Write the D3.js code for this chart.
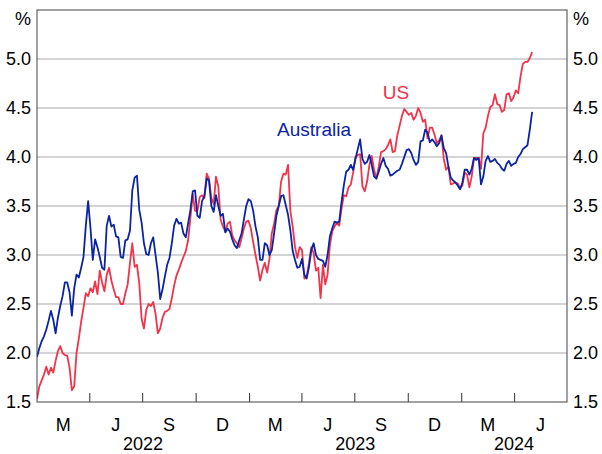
<!DOCTYPE html>
<html>
<head>
<meta charset="utf-8">
<script src="https://cdn.jsdelivr.net/npm/d3@7/dist/d3.min.js"></script>
<style>
  body { margin: 0; background: #fff; }
  svg { display: block; }
  text { font-family: Arial, "Liberation Sans", sans-serif; fill: #000; }
</style>
</head>
<body>
<svg></svg>
<script>
// readings every 4 days, first one 1 Jan 2022, last one 2 May 2024
const firstDay = "2022-01-01";
const stepDays = 4;

const australia = [
  1.96, 2.05, 2.12, 2.17, 2.24, 2.33, 2.43, 2.34, 2.20, 2.36,
  2.48, 2.58, 2.72, 2.72, 2.62, 2.38, 2.66, 2.80, 2.77, 2.87,
  2.98, 3.30, 3.55, 3.28, 2.95, 3.16, 3.08, 2.98, 2.87, 2.85,
  3.30, 3.40, 3.29, 3.31, 3.19, 3.18, 2.98, 2.97, 3.15, 3.16,
  3.25, 3.66, 3.79, 3.81, 3.46, 3.33, 3.12, 3.01, 3.00, 3.12,
  3.18, 3.00, 2.82, 2.55, 2.65, 2.78, 2.90, 2.97, 3.12, 3.30,
  3.37, 3.32, 3.33, 3.22, 3.18, 3.32, 3.46, 3.65, 3.66, 3.40,
  3.38, 3.55, 3.60, 3.78, 3.76, 3.50, 3.44, 3.61, 3.50, 3.40,
  3.42, 3.23, 3.27, 3.24, 3.16, 3.10, 3.07, 3.15, 3.22, 3.36,
  3.50, 3.57, 3.55, 3.45, 3.29, 3.18, 2.95, 2.95, 3.12, 3.10,
  3.00, 3.05, 3.22, 3.40, 3.50, 3.60, 3.61, 3.51, 3.41, 3.25,
  3.04, 2.95, 2.87, 2.88, 2.96, 2.80, 2.76, 2.88, 3.05, 3.12,
  3.00, 2.96, 2.95, 2.94, 2.88, 3.00, 3.19, 3.27, 3.34, 3.33,
  3.34, 3.54, 3.71, 3.85, 3.87, 3.92, 3.87, 3.98, 4.08, 4.18,
  3.98, 3.93, 3.95, 4.02, 3.92, 3.80, 3.78, 3.85, 3.93, 3.99,
  3.91, 3.88, 3.81, 3.82, 3.84, 3.86, 3.87, 3.93, 4.00, 4.07,
  4.08, 4.04, 3.97, 3.92, 3.95, 4.16, 4.17, 4.28, 4.25, 4.15,
  4.18, 4.15, 4.11, 4.14, 4.22, 4.09, 4.04, 3.90, 3.79, 3.76,
  3.74, 3.71, 3.67, 3.74, 3.87, 3.87, 3.82, 3.88, 3.99, 3.97,
  3.99, 3.72, 3.80, 3.96, 4.01, 3.95, 3.96, 3.98, 3.94, 3.92,
  3.88, 3.86, 3.93, 3.96, 3.91, 3.93, 3.94, 4.00, 4.03, 4.08,
  4.10, 4.12, 4.28, 4.46
];

const us = [
  1.53, 1.66, 1.72, 1.78, 1.86, 1.78, 1.85, 1.80, 1.92, 2.02,
  2.07, 2.00, 1.98, 1.97, 1.85, 1.62, 1.66, 2.00, 2.15, 2.32,
  2.46, 2.61, 2.58, 2.66, 2.62, 2.73, 2.60, 2.84, 2.72, 2.63,
  2.80, 2.87, 2.74, 2.65, 2.57, 2.57, 2.50, 2.50, 2.61, 2.70,
  2.92, 3.12, 2.88, 2.90, 2.71, 2.35, 2.25, 2.44, 2.50, 2.48,
  2.52, 2.40, 2.20, 2.25, 2.36, 2.42, 2.43, 2.45, 2.56, 2.69,
  2.79, 2.85, 2.92, 2.98, 3.04, 3.15, 3.38, 3.62, 3.45, 3.45,
  3.59, 3.61, 3.58, 3.83, 3.78, 3.58, 3.52, 3.80, 3.70, 3.36,
  3.29, 3.24, 3.32, 3.34, 3.20, 3.15, 3.12, 3.08, 3.17, 3.27,
  3.34, 3.35, 3.27, 3.13, 3.00, 2.88, 2.74, 2.85, 2.92, 2.82,
  2.96, 3.22, 3.32, 3.46, 3.50, 3.75, 3.83, 3.82, 3.92, 3.45,
  3.29, 3.08, 2.97, 3.08, 3.05, 2.76, 2.78, 2.92, 3.08, 3.02,
  2.84, 2.87, 2.56, 2.90, 2.70, 2.80, 3.10, 3.24, 3.29, 3.33,
  3.30, 3.47, 3.61, 3.60, 3.69, 3.72, 3.84, 4.00, 4.02, 4.03,
  3.70, 3.65, 3.75, 3.92, 4.01, 3.87, 3.78, 3.90, 4.05, 4.06,
  4.08, 4.12, 4.18, 4.05, 4.06, 4.22, 4.32, 4.42, 4.49, 4.46,
  4.43, 4.45, 4.38, 4.42, 4.50, 4.45, 4.36, 4.38, 4.19, 4.30,
  4.30, 4.23, 4.14, 4.17, 4.22, 3.98, 3.87, 3.90, 3.72, 3.73,
  3.74, 3.73, 3.68, 3.71, 3.84, 3.82, 3.69, 3.80, 3.99, 3.99,
  3.99, 3.88, 4.24, 4.30, 4.42, 4.51, 4.53, 4.64, 4.54, 4.53,
  4.46, 4.48, 4.64, 4.65, 4.57, 4.61, 4.68, 4.65, 4.82, 4.95,
  4.97, 4.97, 5.01, 5.07
];

const yTicks = [1.5, 2.0, 2.5, 3.0, 3.5, 4.0, 4.5, 5.0];
const quarterLabels = ["M", "J", "S", "D", "M", "J", "S", "D", "M", "J"];
const yearLabels = ["2022", "2023", "2024"];

const W = 602, H = 454;
const plotLeft = 37, plotRight = 567, plotTop = 10, plotBottom = 402;
const blue = "#0a24a3";
const red = "#f2334a";

const svg = d3.select("svg").attr("width", W).attr("height", H);

const xStart = new Date(2022, 0, 1);
const xEnd = new Date(2024, 6, 1);
const x = d3.scaleTime().domain([xStart, xEnd]).range([plotLeft, plotRight]);
const y = d3.scaleLinear().domain([1.5, 5.5]).range([plotBottom, plotTop]);

const parse = d3.timeParse("%Y-%m-%d");
const days = australia.map((d, i) => d3.timeDay.offset(parse(firstDay), i * stepDays));

// gridlines
svg.append("g")
  .selectAll("line")
  .data(yTicks.filter(d => d > 1.5))
  .enter().append("line")
  .attr("x1", plotLeft).attr("x2", plotRight)
  .attr("y1", d => y(d)).attr("y2", d => y(d))
  .attr("stroke", "#c6c6c6")
  .attr("stroke-width", 1.3);

// y tick labels both sides
const fmt = d3.format(".1f");
svg.append("g").selectAll("text")
  .data(yTicks).enter().append("text")
  .attr("x", plotLeft - 6).attr("y", d => y(d))
  .attr("dy", "0.36em")
  .attr("text-anchor", "end")
  .style("font-size", "18px")
  .text(fmt);
svg.append("g").selectAll("text")
  .data(yTicks).enter().append("text")
  .attr("x", plotRight + 6).attr("y", d => y(d))
  .attr("dy", "0.36em")
  .attr("text-anchor", "start")
  .style("font-size", "18px")
  .text(fmt);

svg.append("text").attr("x", plotLeft - 6).attr("y", 25)
  .attr("text-anchor", "end").style("font-size", "18px").text("%");
svg.append("text").attr("x", plotRight + 6).attr("y", 25)
  .attr("text-anchor", "start").style("font-size", "18px").text("%");

// quarter ticks, pointing up into the plot
const quarterStarts = d3.timeMonth.every(3).range(d3.timeDay.offset(xStart, 1), xEnd);
svg.append("g")
  .attr("transform", "translate(0," + plotBottom + ")")
  .call(d3.axisBottom(x).tickValues(quarterStarts).tickSize(-9).tickFormat(""))
  .call(g => g.select(".domain").remove())
  .call(g => g.selectAll("line").attr("stroke", "#333").attr("stroke-width", 1));

// month letters centred in each quarter
const quarterMids = d3.timeMonth.every(3).range(xStart, xEnd)
  .map(d => new Date((+d + +d3.timeMonth.offset(d, 3)) / 2));
svg.append("g").selectAll("text")
  .data(quarterMids).enter().append("text")
  .attr("x", d => x(d)).attr("y", 431)
  .attr("text-anchor", "middle")
  .style("font-size", "18px")
  .text((d, i) => quarterLabels[i]);

// years centred on the visible part of each year
svg.append("g").selectAll("text")
  .data(yearLabels).enter().append("text")
  .attr("x", d => {
    const a = d3.max([new Date(+d, 0, 1), xStart]);
    const b = d3.min([new Date(+d + 1, 0, 1), xEnd]);
    return (x(a) + x(b)) / 2;
  })
  .attr("y", 450)
  .attr("text-anchor", "middle")
  .style("font-size", "18px")
  .text(d => d);

// lines
svg.append("clipPath").attr("id", "plot")
  .append("rect").attr("x", plotLeft).attr("y", plotTop)
  .attr("width", plotRight - plotLeft).attr("height", plotBottom - plotTop);

const line = d3.line()
  .x(d => x(d[0]))
  .y(d => y(d[1]));

const plot = svg.append("g").attr("clip-path", "url(#plot)");
plot.append("path")
  .datum(days.map((d, i) => [d, us[i]]))
  .attr("fill", "none")
  .attr("stroke", red)
  .attr("stroke-width", 1.8)
  .attr("stroke-linejoin", "round")
  .attr("d", line);
plot.append("path")
  .datum(days.map((d, i) => [d, australia[i]]))
  .attr("fill", "none")
  .attr("stroke", blue)
  .attr("stroke-width", 1.8)
  .attr("stroke-linejoin", "round")
  .attr("d", line);

// frame
svg.append("rect")
  .attr("x", plotLeft).attr("y", plotTop)
  .attr("width", plotRight - plotLeft).attr("height", plotBottom - plotTop)
  .attr("fill", "none")
  .attr("stroke", "#444")
  .attr("stroke-width", 1);

// series labels
svg.append("text")
  .attr("x", 314).attr("y", 136)
  .attr("text-anchor", "middle")
  .style("font-size", "19px")
  .style("fill", blue)
  .text("Australia");
svg.append("text")
  .attr("x", 396).attr("y", 99)
  .attr("text-anchor", "middle")
  .style("font-size", "19px")
  .style("fill", red)
  .text("US");
</script>
</body>
</html>
